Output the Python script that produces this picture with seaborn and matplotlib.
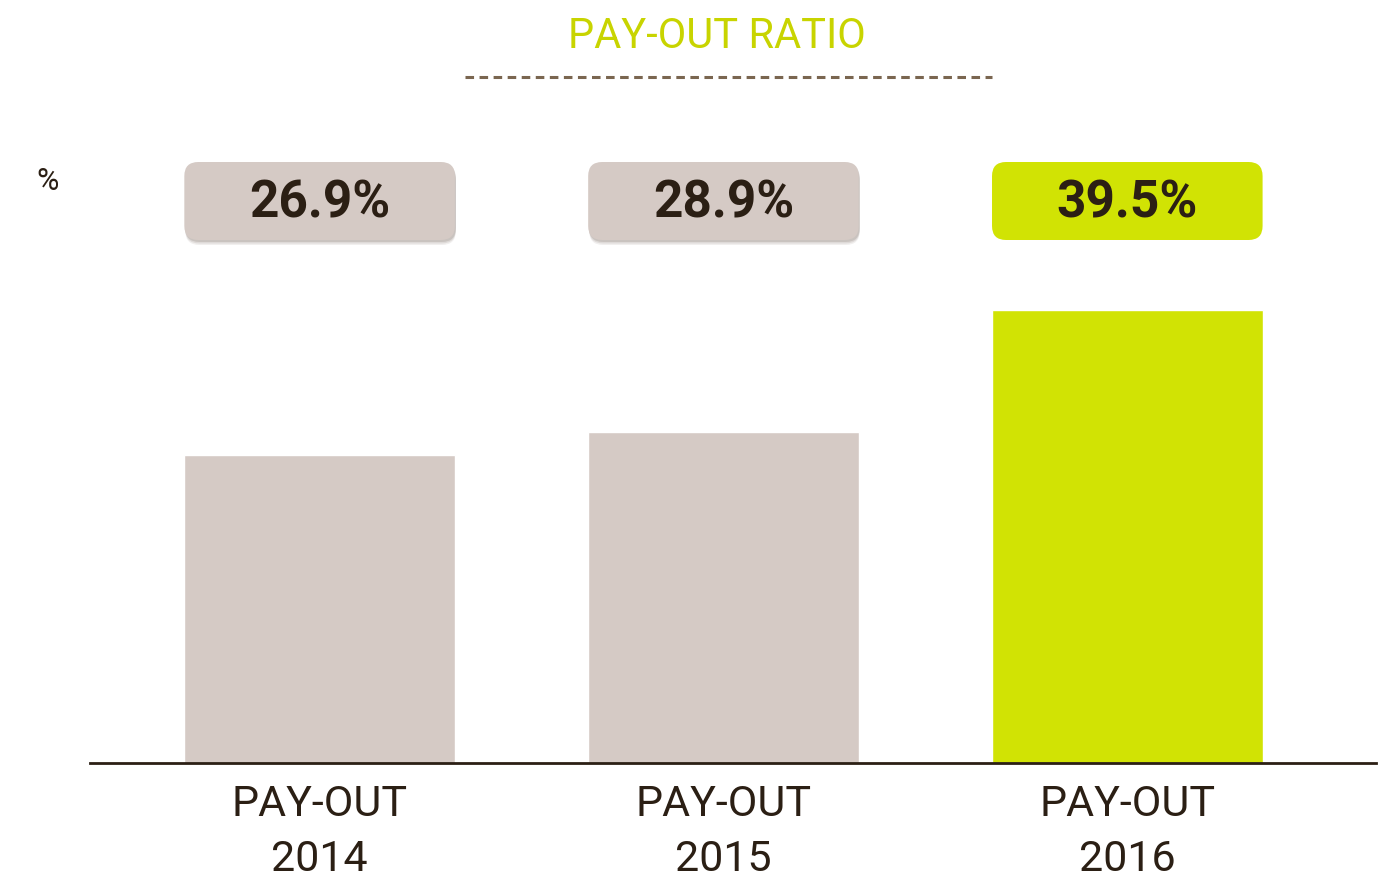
import matplotlib
matplotlib.use('Agg')
import matplotlib.pyplot as plt
import matplotlib.transforms as mtransforms
from matplotlib.patches import FancyBboxPatch
import pandas as pd
import seaborn as sns

years = ['2014', '2015', '2016']
labels = ['PAY-OUT\n2014', 'PAY-OUT\n2015', 'PAY-OUT\n2016']
payout = [26.9, 28.9, 39.5]
value_labels = ['26.9%', '28.9%', '39.5%']

grey = '#D5CAC5'
green = '#D1E304'
dark = '#2B1F14'

sns.set_theme(style='white')
plt.rcParams['font.family'] = ['Roboto', 'DejaVu Sans']

df = pd.DataFrame({'label': labels, 'payout': payout, 'year': years})

W, H = 1382, 884
fig = plt.figure(figsize=(W / 100, H / 100), dpi=100)
ax = fig.add_axes([0.065, 0.137, 0.931, 0.648])

sns.barplot(data=df, x='label', y='payout', hue='label',
            palette=[grey, grey, green], width=0.67, legend=False,
            saturation=1, ax=ax)

ax.set_ylim(0, 50)
ax.set_xlim(-0.569, 2.617)
ax.set_xlabel('')
ax.set_ylabel('')
ax.set_yticks([])
for s in ['top', 'right', 'left']:
    ax.spines[s].set_visible(False)
ax.spines['bottom'].set_color(dark)
ax.spines['bottom'].set_linewidth(2)
ax.tick_params(axis='x', length=0, pad=15, labelsize=31, labelcolor=dark)
for t in ax.get_xticklabels():
    t.set_linespacing(1.45)

# value boxes above the bars, drawn in pixel coordinates
px = mtransforms.IdentityTransform()
top_px, box_h = H - 240, 78
for i, txt in enumerate(value_labels):
    bar = ax.patches[i]
    x0 = ax.transData.transform((bar.get_x(), 0))[0]
    x1 = ax.transData.transform((bar.get_x() + bar.get_width(), 0))[0]
    face = green if i == 2 else grey
    if i < 2:
        for k, a in [(5, 0.12), (3.5, 0.18), (2, 0.25)]:
            sh = FancyBboxPatch((x0 + 1, top_px - k), x1 - x0, box_h,
                                boxstyle='round,pad=0,rounding_size=14',
                                transform=px, facecolor='#8C7F78',
                                edgecolor='none', alpha=a)
            fig.add_artist(sh)
    box = FancyBboxPatch((x0, top_px), x1 - x0, box_h,
                         boxstyle='round,pad=0,rounding_size=14',
                         transform=px, facecolor=face, edgecolor='none')
    fig.add_artist(box)
    fig.text((x0 + x1) / 2, top_px + box_h / 2 - 2, txt, transform=px,
             ha='center', va='center', fontsize=37, fontweight='bold',
             color=dark)

fig.text(48 / W, 1 - 181 / H, '%', ha='center', va='center',
         fontsize=22, color=dark)

fig.text(717 / W, 1 - 37 / H, 'PAY-OUT RATIO', ha='center', va='center',
         fontsize=30, color='#C8D400')
fig.add_artist(plt.Line2D([465 / W, 992 / W], [1 - 77 / H] * 2,
                          transform=fig.transFigure, color='#7A6650',
                          linewidth=2.2, dashes=(2.8, 1.8)))

fig.savefig('out.png', dpi=100)
